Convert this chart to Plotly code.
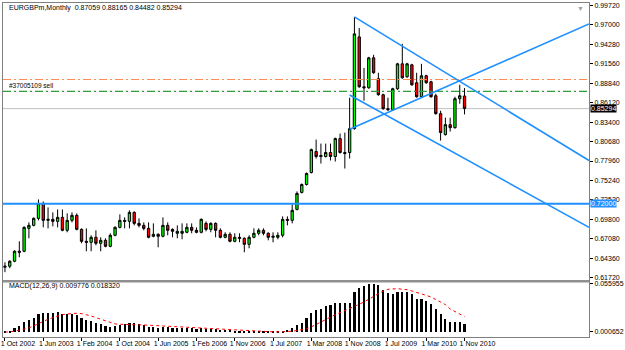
import plotly.graph_objects as go
import pandas as pd

# ---------------- data ----------------
_m = pd.date_range("2002-10-01", "2010-11-01", freq="MS")
_m = _m[_m != pd.Timestamp("2006-08-01")]          # one month missing in the feed
months = [f"{d.day} {d:%b %Y}" for d in _m]

opens = [
    0.6310, 0.6324, 0.6394, 0.6534, 0.6534, 0.6854, 0.6896, 0.6994, 0.7203, 0.6966,
    0.6980, 0.6952, 0.7008, 0.6827, 0.6966, 0.7036, 0.6840, 0.6673, 0.6659, 0.6729,
    0.6645, 0.6687, 0.6603, 0.6757, 0.6868, 0.6966, 0.6952, 0.7078, 0.6924, 0.6896,
    0.6854, 0.6743, 0.6771, 0.6743, 0.6896, 0.6840, 0.6785, 0.6785, 0.6799, 0.6868,
    0.6827, 0.6799, 0.6924, 0.6840, 0.6924, 0.6827, 0.6729, 0.6771, 0.6673, 0.6729,
    0.6715, 0.6631, 0.6729, 0.6785, 0.6827, 0.6785, 0.6729, 0.6729, 0.6757, 0.6980,
    0.6966, 0.7119, 0.7357, 0.7468, 0.7636, 0.7929, 0.7873, 0.7859, 0.7915, 0.7859,
    0.8110, 0.7915, 0.7915, 0.8249, 0.9533, 0.8835, 0.8821, 0.9240, 0.8947, 0.8724,
    0.8528, 0.8514, 0.8807, 0.9156, 0.8975, 0.9142, 0.8891, 0.8696, 0.8989, 0.8905,
    0.8710, 0.8459, 0.8166, 0.8305, 0.8263, 0.8668, 0.87059]
highs = [
    0.6380, 0.6408, 0.6548, 0.6673, 0.6882, 0.6938, 0.7008, 0.7259, 0.7231, 0.7147,
    0.7078, 0.7119, 0.7119, 0.7064, 0.7078, 0.7064, 0.6854, 0.6854, 0.6757, 0.6827,
    0.6729, 0.6715, 0.6785, 0.6882, 0.7050, 0.7008, 0.7106, 0.7092, 0.6994, 0.6938,
    0.6938, 0.6924, 0.6785, 0.7008, 0.6938, 0.6854, 0.6896, 0.6924, 0.6924, 0.6924,
    0.6868, 0.6994, 0.6952, 0.6938, 0.6938, 0.6854, 0.6799, 0.6799, 0.6785, 0.6785,
    0.6729, 0.6757, 0.6854, 0.6854, 0.6854, 0.6799, 0.6799, 0.6799, 0.7022, 0.7022,
    0.7189, 0.7371, 0.7482, 0.7636, 0.7970, 0.8096, 0.8040, 0.8040, 0.8040, 0.8124,
    0.8180, 0.8194, 0.8682, 0.9812, 0.9658, 0.9100, 0.9254, 0.9282, 0.9031, 0.8738,
    0.8682, 0.8821, 0.9170, 0.9435, 0.9170, 0.9156, 0.9031, 0.9156, 0.9003, 0.8919,
    0.8738, 0.8500, 0.8403, 0.8403, 0.8696, 0.8863, 0.88165]
lows = [
    0.6241, 0.6296, 0.6380, 0.6450, 0.6520, 0.6715, 0.6882, 0.6966, 0.6868, 0.6854,
    0.6882, 0.6868, 0.6813, 0.6799, 0.6938, 0.6827, 0.6645, 0.6534, 0.6534, 0.6617,
    0.6534, 0.6589, 0.6589, 0.6743, 0.6854, 0.6854, 0.6854, 0.6896, 0.6868, 0.6827,
    0.6715, 0.6729, 0.6589, 0.6729, 0.6757, 0.6729, 0.6715, 0.6701, 0.6785, 0.6785,
    0.6785, 0.6785, 0.6813, 0.6799, 0.6729, 0.6715, 0.6715, 0.6659, 0.6659, 0.6659,
    0.6520, 0.6575, 0.6715, 0.6757, 0.6757, 0.6687, 0.6659, 0.6701, 0.6729, 0.6896,
    0.6924, 0.7106, 0.7343, 0.7454, 0.7622, 0.7831, 0.7761, 0.7845, 0.7803, 0.7789,
    0.7901, 0.7691, 0.7831, 0.8235, 0.8821, 0.8640, 0.8807, 0.9017, 0.8710, 0.8514,
    0.8500, 0.8500, 0.8793, 0.8947, 0.8961, 0.8849, 0.8682, 0.8682, 0.8877, 0.8682,
    0.8445, 0.8082, 0.8152, 0.8208, 0.8249, 0.8598, 0.84482]
closes = [
    0.6324, 0.6394, 0.6534, 0.6520, 0.6868, 0.6896, 0.6994, 0.7203, 0.6966, 0.6980,
    0.6952, 0.7008, 0.6827, 0.6966, 0.7036, 0.6840, 0.6673, 0.6659, 0.6729, 0.6645,
    0.6687, 0.6603, 0.6757, 0.6868, 0.6966, 0.6952, 0.7078, 0.6924, 0.6896, 0.6854,
    0.6729, 0.6771, 0.6743, 0.6896, 0.6827, 0.6813, 0.6813, 0.6813, 0.6868, 0.6827,
    0.6799, 0.6980, 0.6840, 0.6924, 0.6827, 0.6729, 0.6771, 0.6673, 0.6729, 0.6715,
    0.6631, 0.6729, 0.6785, 0.6827, 0.6785, 0.6729, 0.6743, 0.6757, 0.6980, 0.6966,
    0.7106, 0.7343, 0.7468, 0.7622, 0.7956, 0.7859, 0.7859, 0.7915, 0.7859, 0.8110,
    0.7915, 0.7901, 0.8249, 0.9575, 0.8835, 0.8821, 0.9240, 0.9031, 0.8724, 0.8528,
    0.8514, 0.8807, 0.9156, 0.8961, 0.9156, 0.8863, 0.8696, 0.8989, 0.8891, 0.8696,
    0.8459, 0.8194, 0.8305, 0.8263, 0.8668, 0.8710, 0.85294]

macd_main = [
    0.0015, 0.0019, 0.0046, 0.0069, 0.0114, 0.0145, 0.0164, 0.0209, 0.0217, 0.0221,
    0.0221, 0.0228, 0.0213, 0.0209, 0.0213, 0.0198, 0.0160, 0.0141, 0.0133, 0.0107,
    0.0095, 0.0069, 0.0061, 0.0076, 0.0088, 0.0095, 0.0103, 0.0103, 0.0091, 0.0088,
    0.0065, 0.0057, 0.0053, 0.0057, 0.0057, 0.0049, 0.0049, 0.0046, 0.0046, 0.0046,
    0.0038, 0.0046, 0.0038, 0.0038, 0.0038, 0.0030, 0.0030, 0.0027, 0.0019, 0.0019,
    0.0015, 0.0008, 0.0007, 0.0011, 0.0013, 0.0013, 0.0010, 0.0013, 0.0015, 0.0023,
    0.0046, 0.0088, 0.0108, 0.0165, 0.0222, 0.0255, 0.0263, 0.0301, 0.0312, 0.0331,
    0.0331, 0.0331, 0.0331, 0.0464, 0.0514, 0.0529, 0.0556, 0.05596, 0.0541, 0.0483,
    0.0453, 0.0445, 0.0461, 0.0457, 0.0457, 0.0438, 0.0377, 0.0377, 0.0362, 0.0324,
    0.0263, 0.0209, 0.0152, 0.0114, 0.0118, 0.0118, 0.009776]
macd_signal = [
    0.0004, 0.0008, 0.0015, 0.0027, 0.0038, 0.0053, 0.0076, 0.0103, 0.0125, 0.0152,
    0.0171, 0.0190, 0.0205, 0.0213, 0.0220, 0.0221, 0.0217, 0.0205, 0.0190, 0.0171,
    0.0152, 0.0133, 0.0114, 0.0099, 0.0095, 0.0091, 0.0091, 0.0091, 0.0087, 0.0087,
    0.0084, 0.0080, 0.0076, 0.0072, 0.0068, 0.0065, 0.0061, 0.0057, 0.0053, 0.0053,
    0.0049, 0.0049, 0.0046, 0.0046, 0.0042, 0.0038, 0.0034, 0.0034, 0.0030, 0.0027,
    0.0023, 0.0019, 0.0015, 0.0011, 0.0011, 0.0010, 0.0008, 0.0008, 0.0008, 0.0011,
    0.0015, 0.0023, 0.0030, 0.0042, 0.0065, 0.0091, 0.0122, 0.0148, 0.0179, 0.0202,
    0.0225, 0.0247, 0.0274, 0.0293, 0.0324, 0.0350, 0.0384, 0.0415, 0.0445, 0.0476,
    0.0495, 0.0503, 0.0503, 0.0495, 0.0491, 0.0476, 0.0461, 0.0445, 0.0426, 0.0407,
    0.0377, 0.0350, 0.0320, 0.0270, 0.0240, 0.0210, 0.018320]

date_tick_labels = ["1 Oct 2002", "1 Jun 2003", "1 Feb 2004", "1 Oct 2004", "1 Jun 2005",
                    "1 Feb 2006", "1 Nov 2006", "1 Jul 2007", "1 Mar 2008", "1 Nov 2008",
                    "1 Jul 2009", "1 Mar 2010", "1 Nov 2010"]
price_ticks = [0.9972, 0.9700, 0.9428, 0.9156, 0.8884, 0.8612, 0.8340, 0.8068,
               0.7796, 0.7524, 0.7252, 0.6980, 0.6708, 0.6436, 0.6172]
macd_ticks = [0.055955, 0.000652]

level_line = 0.72000
current_price = 0.85294
orange_level = 0.8937
sell_level = 0.8770
sell_label = "#37005109 sell"

# trend lines: (bar index start, price start, bar index end, price end)
trend_lines = [
    (73, 0.9812, 122.0, 0.7803),
    (72, 0.8720, 122.0, 0.6868),
    (72, 0.8242, 122.0, 0.9714),
]

title_text = "EURGBPm,Monthly  0.87059 0.88165 0.84482 0.85294"
macd_text = "MACD(12,26,9) 0.009776 0.018320"

# ---------------- figure ----------------
FONT = "Liberation Sans Narrow, Arial Narrow, Liberation Sans, Arial, sans-serif"
BLUE = "#1E90FF"
X_RANGE = [-0.41, 122.0]

fig = go.Figure()

fig.add_trace(go.Candlestick(
    x=months, open=opens, high=highs, low=lows, close=closes,
    increasing=dict(fillcolor="#00FF00", line=dict(color="#000000", width=1)),
    decreasing=dict(fillcolor="#FF0000", line=dict(color="#000000", width=1)),
    whiskerwidth=0, hoverinfo="skip", showlegend=False,
    xaxis="x", yaxis="y"))

fig.add_trace(go.Bar(
    x=months, y=macd_main, marker=dict(color="#000000", line=dict(width=0)),
    width=0.45, showlegend=False, hoverinfo="skip", xaxis="x2", yaxis="y2"))
fig.add_trace(go.Scatter(
    x=months, y=macd_signal, mode="lines",
    line=dict(color="#FF0000", width=1, dash="dot"),
    showlegend=False, hoverinfo="skip", xaxis="x2", yaxis="y2"))

shapes = []
# horizontal levels
shapes.append(dict(type="line", xref="x domain", yref="y", x0=0, x1=1,
                   y0=current_price, y1=current_price,
                   line=dict(color="#C0C0C0", width=1), layer="below"))
shapes.append(dict(type="line", xref="x domain", yref="y", x0=0, x1=1,
                   y0=level_line, y1=level_line, line=dict(color=BLUE, width=2)))
shapes.append(dict(type="line", xref="x domain", yref="y", x0=0, x1=1,
                   y0=orange_level, y1=orange_level,
                   line=dict(color="#FF8C50", width=1.2, dash="8px,3px,2px,3px")))
shapes.append(dict(type="line", xref="x domain", yref="y", x0=0, x1=1,
                   y0=sell_level, y1=sell_level,
                   line=dict(color="#2E9E3E", width=1.2, dash="8px,3px,2px,3px")))
for (xa, ya, xb, yb) in trend_lines:
    shapes.append(dict(type="line", xref="x", yref="y", x0=xa, y0=ya, x1=xb, y1=yb,
                       line=dict(color=BLUE, width=1.6)))
# thicker separator between the two panes
shapes.append(dict(type="line", xref="paper", yref="paper", x0=0, x1=1,
                   y0=0.1672, y1=0.1672, line=dict(color="#909090", width=2.5)))

annotations = [
    dict(text=title_text, xref="paper", yref="paper", x=0.007, y=0.985,
         xanchor="left", yanchor="middle", showarrow=False,
         font=dict(family=FONT, size=7, color="#000000")),
    dict(text=macd_text, xref="paper", yref="paper", x=0.007, y=0.152,
         xanchor="left", yanchor="middle", showarrow=False,
         font=dict(family=FONT, size=7, color="#000000")),
    dict(text=sell_label, xref="paper", yref="y", x=0.007, y=sell_level,
         xanchor="left", yanchor="bottom", showarrow=False, yshift=0,
         font=dict(family=FONT, size=6.5, color="#000000")),
    dict(text="0.72000", xref="paper", yref="y", x=1.0017, y=level_line,
         xanchor="left", yanchor="middle", showarrow=False, bgcolor=BLUE,
         borderpad=0, font=dict(family=FONT, size=7, color="#FFFFFF")),
    dict(text="0.85294", xref="paper", yref="y", x=1.0017, y=current_price,
         xanchor="left", yanchor="middle", showarrow=False, bgcolor="#000000",
         borderpad=0, font=dict(family=FONT, size=7, color="#FFFFFF")),
    dict(text="▼", xref="paper", yref="paper", x=0.986, y=1.0,
         xanchor="center", yanchor="top", showarrow=False,
         font=dict(family=FONT, size=7, color="#A0A0A0")),
]

axis_common = dict(showgrid=False, zeroline=False, showline=True, mirror=True,
                   linecolor="#808080", linewidth=1)

fig.update_layout(
    width=625, height=350,
    margin=dict(l=1, r=26, t=2, b=13),
    paper_bgcolor="#FFFFFF", plot_bgcolor="#FFFFFF",
    font=dict(family=FONT, size=7, color="#000000"),
    showlegend=False, bargap=0,
    xaxis=dict(type="category", domain=[0, 1], anchor="y", range=X_RANGE,
               showticklabels=False, ticks="", rangeslider=dict(visible=False),
               **axis_common),
    yaxis=dict(domain=[0.1701, 1], anchor="x", side="right", range=[0.6129, 1.0007],
               tickvals=price_ticks, ticktext=[f"{v:.5f}" for v in price_ticks],
               ticks="outside", ticklen=3, tickcolor="#000000",
               tickfont=dict(family=FONT, size=7, color="#000000"), **axis_common),
    xaxis2=dict(type="category", domain=[0, 1], anchor="y2", matches="x",
                range=X_RANGE, tickvals=date_tick_labels, ticktext=date_tick_labels,
                ticks="outside", ticklen=3, tickcolor="#000000",
                ticklabelshift=13, ticklabelstandoff=-3,
                tickfont=dict(family=FONT, size=7, color="#000000"), **axis_common),
    yaxis2=dict(domain=[0, 0.1642], anchor="x2", side="right", range=[-0.0051, 0.0577],
                tickvals=macd_ticks, ticktext=[f"{v:.6f}" for v in macd_ticks],
                ticks="outside", ticklen=3, tickcolor="#000000",
                tickfont=dict(family=FONT, size=7, color="#000000"), **axis_common),
    shapes=shapes, annotations=annotations,
)

fig.write_html("out.html", config=dict(displayModeBar=False))
